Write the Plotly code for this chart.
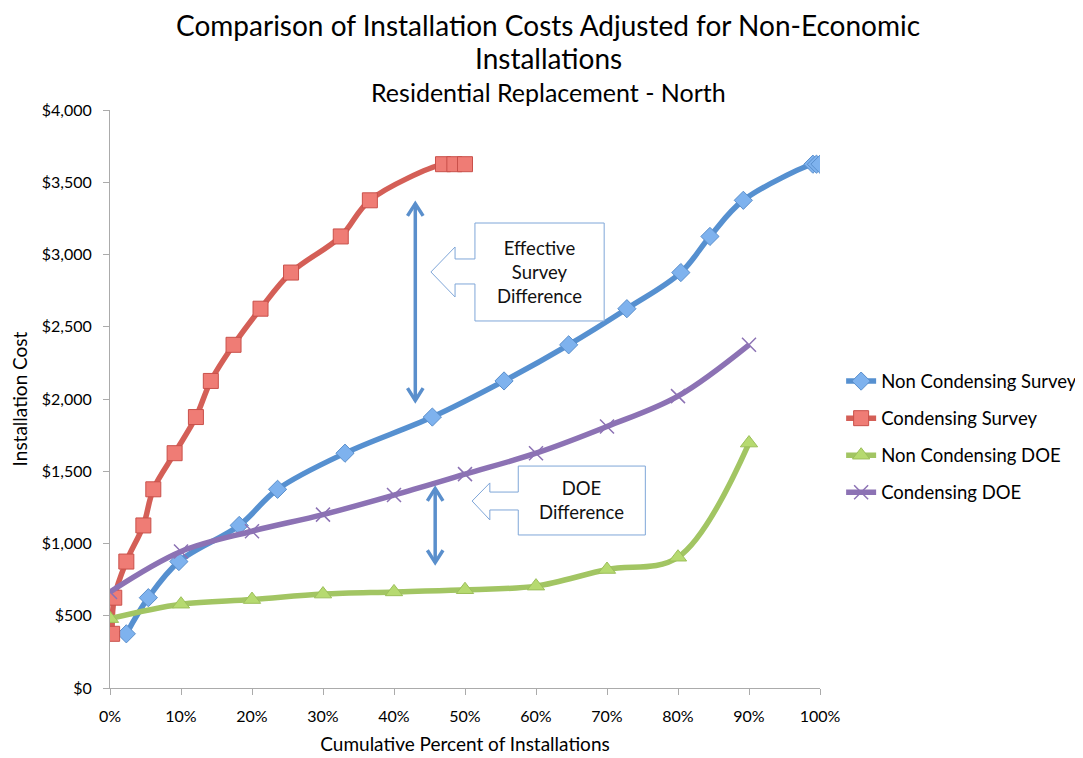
import plotly.graph_objects as go

# ---------------- data ----------------
nc_survey_x = [2.3, 5.4, 9.7, 18.2, 23.6, 33.1, 45.4, 55.5, 64.6, 72.8, 80.4, 84.5, 89.2, 99.0, 99.5, 100.0]
nc_survey_y = [375, 625, 875, 1125, 1375, 1625, 1875, 2125, 2375, 2625, 2875, 3125, 3375, 3625, 3625, 3625]

c_survey_x = [0.3, 0.6, 2.3, 4.7, 6.1, 9.1, 12.1, 14.2, 17.4, 21.2, 25.5, 32.5, 36.6, 46.9, 48.5, 50.0]
c_survey_y = [375, 625, 875, 1125, 1375, 1625, 1875, 2125, 2375, 2625, 2875, 3125, 3375, 3625, 3625, 3625]

doe_x = [0, 10, 20, 30, 40, 50, 60, 70, 80, 90]
nc_doe_y = [480, 580, 612, 650, 665, 680, 705, 820, 905, 1695]
c_doe_y = [665, 945, 1085, 1200, 1335, 1480, 1625, 1810, 2020, 2375]

x_ticks = [0, 10, 20, 30, 40, 50, 60, 70, 80, 90, 100]
y_ticks = [0, 500, 1000, 1500, 2000, 2500, 3000, 3500, 4000]

FONT = "Lato"

fig = go.Figure()

fig.add_trace(go.Scatter(
    x=nc_survey_x, y=nc_survey_y, name="Non Condensing Survey", legendgroup="a",
    mode="lines+markers", line=dict(color="#5690D0", width=5.5, shape="spline"),
    marker=dict(symbol="diamond", size=14, color="#7EB2EE", line=dict(color="#5A8FCC", width=1))))
fig.add_trace(go.Scatter(
    x=c_survey_x, y=c_survey_y, name="Condensing Survey", legendgroup="b",
    mode="lines+markers", line=dict(color="#D45F57", width=5.5, shape="spline"),
    marker=dict(symbol="square", size=15, color="#EF7C75", line=dict(color="#C9504A", width=1))))
fig.add_trace(go.Scatter(
    x=doe_x, y=nc_doe_y, name="Non Condensing DOE", legendgroup="c",
    mode="lines+markers", line=dict(color="#A2C563", width=5.5, shape="spline"),
    marker=dict(symbol="triangle-up", size=15, color="#B6DA70", line=dict(color="#9CBF5A", width=1))))
fig.add_trace(go.Scatter(
    x=doe_x, y=c_doe_y, name="Condensing DOE", legendgroup="d",
    mode="lines+markers", line=dict(color="#8C72B4", width=5.5, shape="spline"),
    marker=dict(symbol="x-thin", size=14, color="#8C72B4", line=dict(color="#8C72B4", width=1.5))))

shapes = []
ARROW = "#5A8FCC"

def vline_arrow(x, y0, y1):
    shapes.append(dict(type="line", xref="x", yref="y", x0=x, x1=x, y0=y0, y1=y1,
                       line=dict(color=ARROW, width=3.5)))
    dx, dy = 1.1, 85
    shapes.append(dict(type="path", xref="x", yref="y",
                       path=f"M {x-dx},{y1-dy} L {x},{y1} L {x+dx},{y1-dy}",
                       line=dict(color=ARROW, width=3.5)))
    shapes.append(dict(type="path", xref="x", yref="y",
                       path=f"M {x-dx},{y0+dy} L {x},{y0} L {x+dx},{y0+dy}",
                       line=dict(color=ARROW, width=3.5)))

vline_arrow(43.0, 1990, 3352)
vline_arrow(45.8, 868, 1380)

def callout(bx0, bx1, by0, by1, tip_x, tip_y, base_x, s0, s1, h0, h1):
    path = (f"M {bx0},{by1} L {bx1},{by1} L {bx1},{by0} L {bx0},{by0} "
            f"L {bx0},{s0} L {base_x},{s0} L {base_x},{h0} L {tip_x},{tip_y} "
            f"L {base_x},{h1} L {base_x},{s1} L {bx0},{s1} Z")
    shapes.append(dict(type="path", xref="x", yref="y", path=path,
                       fillcolor="white", line=dict(color="#7FA6D8", width=1)))

callout(51.4, 69.6, 2540, 3218, 45.2, 2879, 48.6, 2796, 2969, 2706, 3052)
callout(57.5, 75.4, 1059, 1536, 51.0, 1294, 53.5, 1232, 1356, 1163, 1419)

annotations = [
    dict(text="Effective<br>Survey<br>Difference", x=60.5, y=2879, xref="x", yref="y",
         showarrow=False, font=dict(family=FONT, size=18.5, color="#111111")),
    dict(text="DOE<br>Difference", x=66.4, y=1298, xref="x", yref="y",
         showarrow=False, font=dict(family=FONT, size=18.5, color="#111111")),
    dict(text="Comparison of Installation Costs Adjusted for Non-Economic", x=0.617, y=(688 - 25) / 578,
         xref="paper", yref="paper", showarrow=False, yanchor="middle",
         font=dict(family=FONT, size=28, color="#000000")),
    dict(text="Installations", x=0.617, y=(688 - 58) / 578,
         xref="paper", yref="paper", showarrow=False, yanchor="middle",
         font=dict(family=FONT, size=28, color="#000000")),
    dict(text="Residential Replacement - North", x=0.617, y=(688 - 92) / 578,
         xref="paper", yref="paper", showarrow=False, yanchor="middle",
         font=dict(family=FONT, size=25, color="#000000")),
]

fig.update_layout(
    width=1075, height=750,
    margin=dict(l=102, r=263, t=102, b=70),
    paper_bgcolor="white", plot_bgcolor="white",
    font=dict(family=FONT, size=16, color="#000000"),
    shapes=shapes, annotations=annotations,
    legend=dict(xref="container", x=0.775, y=0.563, xanchor="left", yanchor="top",
                font=dict(family=FONT, size=18.5), tracegroupgap=10,
                itemwidth=30, bgcolor="rgba(0,0,0,0)"),
    xaxis=dict(range=[0, 100], tickvals=x_ticks, ticktext=[f"{v}%" for v in x_ticks],
               showgrid=False, zeroline=False, showline=True, linecolor="#ABABAB", linewidth=1,
               ticks="outside", ticklen=6, tickcolor="#ABABAB", ticklabelstandoff=8,
               title=dict(text="Cumulative Percent of Installations", font=dict(size=19), standoff=13),
               tickfont=dict(size=16), automargin=False),
    yaxis=dict(range=[0, 4000], tickvals=y_ticks, ticktext=[f"${v:,}" for v in y_ticks],
               showgrid=False, zeroline=False, showline=True, linecolor="#ABABAB", linewidth=1,
               ticks="outside", ticklen=6, tickcolor="#ABABAB", ticklabelstandoff=8,
               title=dict(text="Installation Cost", font=dict(size=19), standoff=14),
               tickfont=dict(size=16), automargin=False),
)

fig.write_html("out.html")
